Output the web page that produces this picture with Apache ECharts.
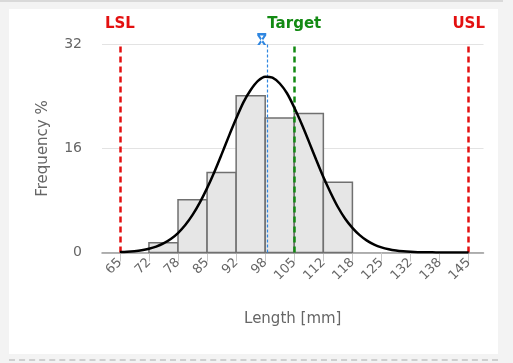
<!DOCTYPE html>
<html>
<head>
<meta charset="utf-8">
<script src="https://cdn.jsdelivr.net/npm/echarts@6/dist/echarts.min.js"></script>
<style>
html,body{margin:0;padding:0;background:#f3f3f3;width:513px;height:363px;overflow:hidden;}
#topline{position:absolute;left:0;top:0;width:503px;height:2px;background:#d9d9d9;}
#panel{position:absolute;left:9px;top:9px;width:489px;height:345px;background:#ffffff;}
#dash{position:absolute;left:9px;top:359px;width:489px;height:0;border-top:2px dashed #cfcfcf;}
#chart{position:absolute;left:0;top:0;width:513px;height:363px;}
</style>
</head>
<body>
<div id="topline"></div>
<div id="panel"></div>
<div id="dash"></div>
<div id="chart"></div>
<script>
// ---- data ----
const tickValues = [65, 71.667, 78.333, 85, 91.667, 98.333, 105, 111.667, 118.333, 125, 131.667, 138.333, 145];
const tickLabels = ['65', '72', '78', '85', '92', '98', '105', '112', '118', '125', '132', '138', '145'];
const binEdges = [71.667, 78.333, 85, 91.667, 98.333, 105, 111.667, 118.333];
const binFreq = [1.5, 8.1, 12.3, 24.1, 20.7, 21.4, 10.8];
const curveX = [65, 66.67, 68.33, 70, 71.67, 73.33, 75, 76.67, 78.33, 80, 81.67, 83.33, 85, 86.67, 88.33, 90,
  91.67, 93.33, 95, 96.67, 98.33, 100, 101.67, 103.33, 105, 106.67, 108.33, 110, 111.67, 113.33, 115, 116.67,
  118.33, 120, 121.67, 123.33, 125, 126.67, 128.33, 130, 131.67, 133.33, 135, 136.67, 138.33, 140, 141.67, 143.33, 145];
const curveY = [0.07, 0.12, 0.21, 0.35, 0.57, 0.9, 1.39, 2.07, 2.99, 4.22, 5.78, 7.67, 9.9, 12.4, 15.1, 17.9,
  20.6, 23.1, 25.0, 26.4, 27.05, 26.9, 26.0, 24.5, 22.3, 19.8, 17.1, 14.3, 11.6, 9.2, 7.0, 5.2,
  3.8, 2.67, 1.82, 1.21, 0.78, 0.49, 0.3, 0.18, 0.1, 0.05, 0.03, 0.02, 0.01, 0, 0, 0, 0];
const lsl = 65, usl = 145, target = 105, meanValue = 98.8;
const yTicks = [0, 16, 32];

const FONT = 'DejaVu Sans';
const chart = echarts.init(document.getElementById('chart'), null, {renderer: 'canvas'});

const histData = binFreq.map((f, i) => [binEdges[i], binEdges[i + 1], f]);
const curveData = curveX.map((x, i) => [x, curveY[i]]);

function specLine(value, name, color) {
  return {
    xAxis: value, name: name,
    lineStyle: {color: color, type: [6, 4], width: 2.5},
    label: {show: true, position: 'end', formatter: '{b}', color: color, fontWeight: 'bold', fontSize: 15, fontFamily: FONT, distance: 13}
  };
}

chart.setOption({
  animation: false,
  textStyle: {fontFamily: FONT},
  grid: {left: 102, right: 29.5, top: 44.5, bottom: 110.5, containLabel: false},
  xAxis: {
    type: 'value', min: 60.9, max: 148.4,
    axisLine: {show: true, lineStyle: {color: '#9a9a9a', width: 1.5}},
    axisTick: {show: true, customValues: tickValues, length: 9, lineStyle: {color: '#c8c8c8', width: 1}},
    axisLabel: {
      customValues: tickValues, rotate: 45, color: '#666', fontSize: 13, fontFamily: FONT, margin: 8,
      formatter: function (v) { const i = tickValues.indexOf(v); return i >= 0 ? tickLabels[i] : ''; }
    },
    splitLine: {show: false},
    name: 'Length [mm]', nameLocation: 'middle', nameGap: 59,
    nameTextStyle: {color: '#666', fontSize: 15, fontFamily: FONT}
  },
  yAxis: {
    type: 'value', min: yTicks[0], max: yTicks[yTicks.length - 1], interval: 16,
    axisLine: {show: false}, axisTick: {show: false},
    axisLabel: {color: '#666', fontSize: 14, fontFamily: FONT, margin: 20},
    splitLine: {show: true, lineStyle: {color: '#e3e3e3', width: 1}},
    name: 'Frequency %', nameLocation: 'middle', nameGap: 51, nameRotate: 90,
    nameTextStyle: {color: '#666', fontSize: 15, fontFamily: FONT}
  },
  series: [
    {
      type: 'custom', z: 2,
      renderItem: function (params, api) {
        const p0 = api.coord([api.value(0), 0]);
        const p1 = api.coord([api.value(1), api.value(2)]);
        return {
          type: 'rect',
          shape: {x: p0[0], y: p1[1], width: p1[0] - p0[0], height: p0[1] - p1[1]},
          style: {fill: '#e6e6e6', stroke: '#707070', lineWidth: 1.5}
        };
      },
      encode: {x: [0, 1], y: 2},
      data: histData
    },
    {
      type: 'line', z: 3, data: [],
      markLine: {
        silent: true, symbol: 'none', animation: false,
        data: [specLine(lsl, 'LSL', '#e31010'), specLine(target, 'Target', '#138a13'), specLine(usl, 'USL', '#e31010')]
      }
    },
    {
      type: 'line', z: 4, data: [],
      markLine: {
        silent: true, animation: false,
        symbol: ['none', 'path://M0,0 H10 V2.4 H0 Z M0,2.4 L2.8,2.4 L10,12 L7.2,12 Z M10,2.4 L7.2,2.4 L0,12 L2.8,12 Z'],
        symbolSize: [9, 12], symbolRotate: 0, symbolOffset: [0, -5.5],
        data: [{xAxis: meanValue, lineStyle: {color: '#2f86e0', type: [3, 2], width: 1.2}, label: {show: false}}]
      }
    },
    {
      type: 'line', z: 5, data: curveData, smooth: 0.3, showSymbol: false, symbol: 'none',
      lineStyle: {color: '#000', width: 2.5}
    }
  ]
});
</script>
</body>
</html>
